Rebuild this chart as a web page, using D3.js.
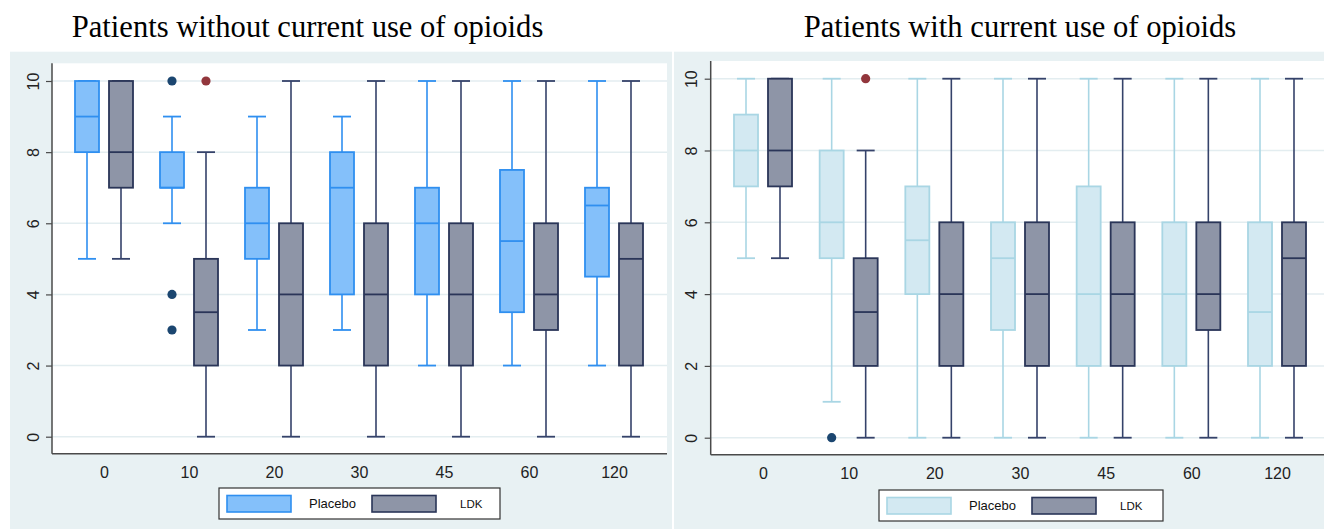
<!DOCTYPE html>
<html>
<head>
<meta charset="utf-8">
<script src="https://cdn.jsdelivr.net/npm/d3@7"></script>
<style>
  html, body { margin: 0; padding: 0; background: #ffffff; }
  svg { display: block; }
</style>
</head>
<body>
<svg id="chart" width="1324" height="529"></svg>
<script>
// Time points (minutes)
const categories = ["0", "10", "20", "30", "45", "60", "120"];
const groups = ["Placebo", "LDK"];
const yTicks = [0, 2, 4, 6, 8, 10];

// Five-number summaries per time point: [min whisker, Q1, median, Q3, max whisker]
const noOpioidPlacebo = [[5, 8, 9, 10, 10], [6, 7, 7, 8, 9], [3, 5, 6, 7, 9], [3, 4, 7, 8, 9], [2, 4, 6, 7, 10], [2, 3.5, 5.5, 7.5, 10], [2, 4.5, 6.5, 7, 10]];
const noOpioidLDK     = [[5, 7, 8, 10, 10], [0, 2, 3.5, 5, 8], [0, 2, 4, 6, 10], [0, 2, 4, 6, 10], [0, 2, 4, 6, 10], [0, 3, 4, 6, 10], [0, 2, 5, 6, 10]];
const opioidPlacebo   = [[5, 7, 8, 9, 10], [1, 5, 6, 8, 10], [0, 4, 5.5, 7, 10], [0, 3, 5, 6, 10], [0, 2, 4, 7, 10], [0, 2, 4, 6, 10], [0, 2, 3.5, 6, 10]];
const opioidLDK       = [[5, 7, 8, 10, 10], [0, 2, 3.5, 5, 8], [0, 2, 4, 6, 10], [0, 2, 4, 6, 10], [0, 2, 4, 6, 10], [0, 3, 4, 6, 10], [0, 2, 5, 6, 10]];

// Outside values: [time point, group, score]
const noOpioidOutliers = [["10", "Placebo", 10], ["10", "Placebo", 4], ["10", "Placebo", 3], ["10", "LDK", 10]];
const opioidOutliers   = [["10", "Placebo", 0], ["10", "LDK", 10]];

const titles = ["Patients without current use of opioids", "Patients with current use of opioids"];

const svg = d3.select("#chart");

const panels = [
  {
    title: titles[0], titleX: 307.5,
    region: { x0: 10, x1: 672 },
    plot: { x0: 52, x1: 667, y0: 63.3, y1: 453.7 },
    yRange: [436.7, 81], catRange: [104, 614],
    summaries: { Placebo: noOpioidPlacebo, LDK: noOpioidLDK },
    outliers: noOpioidOutliers,
    style: {
      Placebo: { fill: "#84c0fa", stroke: "#2f8ff0", whisker: "#2f8ff0" },
      LDK: { fill: "#8e95a7", stroke: "#2a3558", whisker: "#35426a" }
    },
    legend: { x0: 219, x1: 500, y0: 488, y1: 519 }
  },
  {
    title: titles[1], titleX: 1020,
    region: { x0: 674, x1: 1324 },
    plot: { x0: 710.7, x1: 1324, y0: 61, y1: 454.7 },
    yRange: [437.7, 78.7], catRange: [763, 1277],
    summaries: { Placebo: opioidPlacebo, LDK: opioidLDK },
    outliers: opioidOutliers,
    style: {
      Placebo: { fill: "#d3e9f2", stroke: "#a9d6e4", whisker: "#a9d6e4" },
      LDK: { fill: "#8e95a7", stroke: "#2a3558", whisker: "#35426a" }
    },
    legend: { x0: 879, x1: 1163, y0: 490, y1: 521 }
  }
];

const outlierColor = { Placebo: "#1b4670", LDK: "#92363c" };
const regionFill = "#e8f1f3";
const gridColor = "#e3edf0";
const axisColor = "#4a4a4a";

panels.forEach(p => {
  const g = svg.append("g");

  // Graph region and plot region backgrounds
  g.append("rect")
    .attr("x", p.region.x0).attr("y", 51.7)
    .attr("width", p.region.x1 - p.region.x0).attr("height", 529 - 51.7)
    .attr("fill", regionFill);
  g.append("rect")
    .attr("x", p.plot.x0).attr("y", p.plot.y0)
    .attr("width", p.plot.x1 - p.plot.x0).attr("height", p.plot.y1 - p.plot.y0)
    .attr("fill", "#ffffff");

  // Title
  svg.append("text")
    .attr("x", p.titleX).attr("y", 36.5)
    .attr("text-anchor", "middle")
    .attr("font-family", "'Liberation Serif', 'Times New Roman', serif")
    .attr("font-size", 30.6)
    .attr("fill", "#000")
    .text(p.title);

  const y = d3.scaleLinear().domain([0, 10]).range(p.yRange);
  const x = d3.scalePoint().domain(categories).range(p.catRange);
  const xg = d3.scaleBand().domain(groups).range([-34, 34]).paddingInner(0).paddingOuter(0);
  const boxW = 24, capW = 18;

  // Horizontal grid lines
  g.append("g").selectAll("line").data(yTicks).join("line")
    .attr("x1", p.plot.x0).attr("x2", p.plot.x1)
    .attr("y1", d => y(d)).attr("y2", d => y(d))
    .attr("stroke", gridColor).attr("stroke-width", 1.5);

  // Boxes
  groups.forEach(grp => {
    const st = p.style[grp];
    const data = p.summaries[grp].map((s, i) => ({ cat: categories[i], s }));
    const bg = g.append("g").selectAll("g").data(data).join("g")
      .attr("transform", d => `translate(${x(d.cat) + xg(grp) + xg.bandwidth() / 2},0)`);

    // Whiskers
    bg.append("line")
      .attr("x1", 0).attr("x2", 0)
      .attr("y1", d => y(d.s[0])).attr("y2", d => y(d.s[1]))
      .attr("stroke", st.whisker).attr("stroke-width", 1.6);
    bg.append("line")
      .attr("x1", 0).attr("x2", 0)
      .attr("y1", d => y(d.s[3])).attr("y2", d => y(d.s[4]))
      .attr("stroke", st.whisker).attr("stroke-width", 1.6);
    // Caps
    bg.append("line")
      .attr("x1", -capW / 2).attr("x2", capW / 2)
      .attr("y1", d => y(d.s[0])).attr("y2", d => y(d.s[0]))
      .attr("stroke", st.whisker).attr("stroke-width", 1.8);
    bg.append("line")
      .attr("x1", -capW / 2).attr("x2", capW / 2)
      .attr("y1", d => y(d.s[4])).attr("y2", d => y(d.s[4]))
      .attr("stroke", st.whisker).attr("stroke-width", 1.8);
    // Box
    bg.append("rect")
      .attr("x", -boxW / 2).attr("width", boxW)
      .attr("y", d => y(d.s[3])).attr("height", d => y(d.s[1]) - y(d.s[3]))
      .attr("fill", st.fill).attr("stroke", st.stroke).attr("stroke-width", 1.8);
    // Median
    bg.append("line")
      .attr("x1", -boxW / 2).attr("x2", boxW / 2)
      .attr("y1", d => y(d.s[2])).attr("y2", d => y(d.s[2]))
      .attr("stroke", st.stroke).attr("stroke-width", 1.8);
  });

  // Outside values
  g.append("g").selectAll("circle").data(p.outliers).join("circle")
    .attr("cx", d => x(d[0]) + xg(d[1]) + xg.bandwidth() / 2)
    .attr("cy", d => y(d[2]))
    .attr("r", 4.6)
    .attr("fill", d => outlierColor[d[1]]);

  // Y axis
  const yAxis = g.append("g")
    .attr("transform", `translate(${p.plot.x0},0)`)
    .call(d3.axisLeft(y).tickValues(yTicks).tickSize(6).tickSizeOuter(0));
  yAxis.select(".domain").attr("d", `M0,${p.plot.y0}V${p.plot.y1}`)
    .attr("stroke", axisColor).attr("stroke-width", 1.5);
  yAxis.selectAll(".tick line").attr("stroke", axisColor).attr("stroke-width", 1.2);
  yAxis.selectAll(".tick text")
    .attr("x", 0).attr("y", 0).attr("dy", "0.36em")
    .attr("text-anchor", "middle")
    .attr("transform", "translate(-19,0) rotate(-90)")
    .attr("font-family", "'Liberation Sans', Arial, sans-serif")
    .attr("font-size", 16).attr("fill", "#222");

  // X axis
  const xAxis = g.append("g")
    .attr("transform", `translate(0,${p.plot.y1})`)
    .call(d3.axisBottom(x).tickSize(0).tickPadding(12.5));
  xAxis.select(".domain").attr("d", `M${p.plot.x0},0H${p.plot.x1}`)
    .attr("stroke", axisColor).attr("stroke-width", 1.5);
  xAxis.selectAll(".tick text")
    .attr("font-family", "'Liberation Sans', Arial, sans-serif")
    .attr("font-size", 16).attr("fill", "#222");

  // Legend
  const L = p.legend;
  const lg = g.append("g");
  lg.append("rect")
    .attr("x", L.x0).attr("y", L.y0)
    .attr("width", L.x1 - L.x0).attr("height", L.y1 - L.y0)
    .attr("fill", "#ffffff").attr("stroke", "#333").attr("stroke-width", 1.2);
  const legendItems = [
    { key: "Placebo", sx: L.x0 + 8, tx: L.x0 + 90, size: 13 },
    { key: "LDK", sx: L.x0 + 153, tx: L.x0 + 241, size: 11.5 }
  ];
  legendItems.forEach(it => {
    lg.append("rect")
      .attr("x", it.sx).attr("y", L.y0 + 7.5)
      .attr("width", 64).attr("height", 16.5)
      .attr("fill", p.style[it.key].fill)
      .attr("stroke", p.style[it.key].stroke).attr("stroke-width", 1.6);
    lg.append("text")
      .attr("x", it.tx).attr("y", (L.y0 + L.y1) / 2).attr("dy", "0.36em")
      .attr("font-family", "'Liberation Sans', Arial, sans-serif")
      .attr("font-size", it.size).attr("fill", "#111")
      .text(it.key);
  });
});
</script>
</body>
</html>
